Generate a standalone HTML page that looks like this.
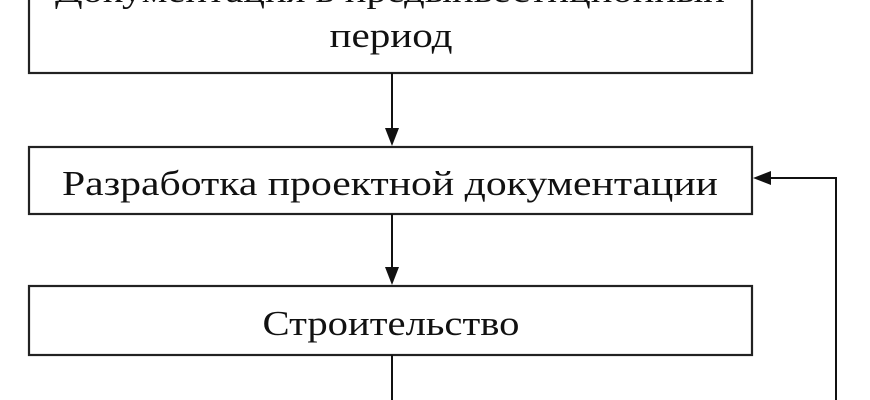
<!DOCTYPE html>
<html><head><meta charset="utf-8"><style>html,body{margin:0;padding:0;background:#fff;width:870px;height:400px;overflow:hidden}</style></head>
<body>
<svg width="870" height="400" xmlns="http://www.w3.org/2000/svg" font-family="'Liberation Serif', serif" fill="#111">
<g stroke="#222" stroke-width="2.2" fill="#fff">
<rect x="29" y="-20" width="723" height="93"/>
<rect x="29" y="147" width="723" height="67"/>
<rect x="29" y="286" width="723" height="69"/>
</g>
<g stroke="#111" stroke-width="2" fill="none">
<line x1="392" y1="73" x2="392" y2="130"/>
<line x1="392" y1="214" x2="392" y2="268"/>
<line x1="392" y1="355" x2="392" y2="400"/>
<polyline points="836,400 836,178 770,178"/>
</g>
<g fill="#111">
<polygon points="385,128 399,128 392,146"/>
<polygon points="385,267 399,267 392,285"/>
<polygon points="771,171 771,185 753,178"/>
</g>
<text x="390" y="2" font-size="34" text-anchor="middle" textLength="670" lengthAdjust="spacingAndGlyphs">Документация в предынвестиционный</text>
<text x="391" y="47" font-size="35" text-anchor="middle" textLength="123" lengthAdjust="spacingAndGlyphs">период</text>
<text x="390" y="195" font-size="35" text-anchor="middle" textLength="656" lengthAdjust="spacingAndGlyphs">Разработка проектной документации</text>
<text x="391" y="335" font-size="35" text-anchor="middle" textLength="257" lengthAdjust="spacingAndGlyphs">Строительство</text>
</svg>
</body></html>
